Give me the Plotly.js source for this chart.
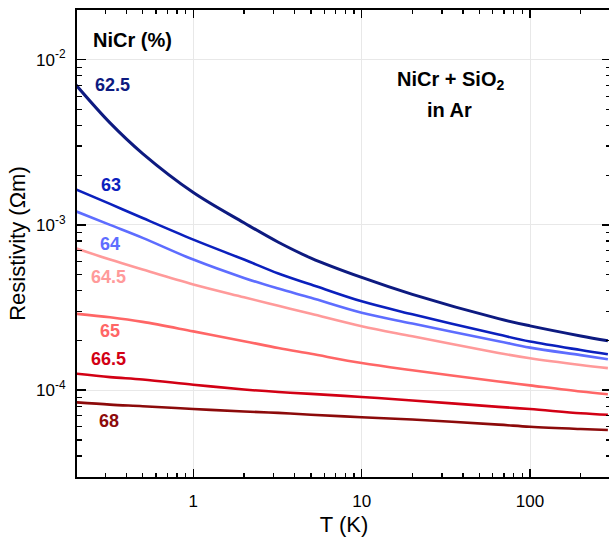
<!DOCTYPE html>
<html>
<head>
<meta charset="utf-8">
<script src="https://cdn.plot.ly/plotly-3.0.1.min.js"></script>
<style>
html,body{margin:0;padding:0;overflow:hidden;background:#fff;}
#chart{width:611px;height:537px;}
</style>
</head>
<body>
<div id="chart"></div>
<script>
// Temperature (K)
const T = [0.2, 0.32, 0.5, 1, 2, 3.2, 5, 10, 20, 65, 100, 200, 290];
// Resistivity (Ohm m) for each NiCr content (%)
const r625 = [7.06e-3, 4.14e-3, 2.70e-3, 1.57e-3, 1.03e-3, 7.85e-4, 6.30e-4, 4.81e-4, 3.80e-4, 2.71e-4, 2.45e-4, 2.13e-4, 1.99e-4];
const r63  = [1.64e-3, 1.34e-3, 1.10e-3, 8.15e-4, 6.17e-4, 5.08e-4, 4.36e-4, 3.45e-4, 2.88e-4, 2.17e-4, 1.97e-4, 1.75e-4, 1.65e-4];
const r64  = [1.21e-3, 1.00e-3, 8.35e-4, 6.17e-4, 4.78e-4, 4.12e-4, 3.62e-4, 2.94e-4, 2.53e-4, 1.98e-4, 1.81e-4, 1.63e-4, 1.54e-4];
const r645 = [7.24e-4, 6.17e-4, 5.37e-4, 4.36e-4, 3.65e-4, 3.24e-4, 2.90e-4, 2.44e-4, 2.12e-4, 1.68e-4, 1.56e-4, 1.42e-4, 1.36e-4];
const r65  = [2.90e-4, 2.76e-4, 2.59e-4, 2.27e-4, 1.98e-4, 1.80e-4, 1.66e-4, 1.46e-4, 1.32e-4, 1.13e-4, 1.07e-4, 9.82e-5, 9.46e-5];
const r665 = [1.26e-4, 1.20e-4, 1.16e-4, 1.08e-4, 1.01e-4, 9.75e-5, 9.50e-5, 9.10e-5, 8.67e-5, 7.93e-5, 7.69e-5, 7.26e-5, 7.10e-5];
const r68  = [8.45e-5, 8.18e-5, 8.00e-5, 7.70e-5, 7.43e-5, 7.29e-5, 7.11e-5, 6.86e-5, 6.65e-5, 6.19e-5, 6.01e-5, 5.82e-5, 5.74e-5];

const seriesNames = ['62.5', '63', '64', '64.5', '65', '66.5', '68'];
const seriesData = [r625, r63, r64, r645, r65, r665, r68];
const seriesColors = ['#0d1a80', '#0b20bd', '#5e6dff', '#ff9a9a', '#ff6666', '#d20014', '#8c0a0a'];
// label anchor points (T, rho)
const labelT   = [0.329, 0.323, 0.319, 0.314, 0.321, 0.312, 0.316];
const labelRho = [7.05e-3, 1.75e-3, 7.70e-4, 4.84e-4, 2.27e-4, 1.55e-4, 6.49e-5];

const xTickVals = [1, 10, 100];
const xTickText = ['1', '10', '100'];
const yTickVals = [1e-4, 1e-3, 1e-2];
const yTickText = ['10<sup>-4</sup>', '10<sup>-3</sup>', '10<sup>-2</sup>'];

const xMinor = [];
[0.1, 1, 10, 100].forEach(d => { for (let k = 2; k <= 9; k++) xMinor.push(k * d); });
const yMinor = [];
[1e-5, 1e-4, 1e-3, 1e-2].forEach(d => { for (let k = 2; k <= 9; k++) yMinor.push(k * d); });

const traces = seriesData.map((ys, i) => ({
  x: T, y: ys, type: 'scatter', mode: 'lines', name: seriesNames[i],
  line: {color: seriesColors[i], width: i === 0 ? 3 : 2.6, shape: 'spline', smoothing: 1},
  hoverinfo: 'skip', showlegend: false
}));

const font = 'Liberation Sans, Arial, sans-serif';
const annotations = seriesNames.map((n, i) => ({
  x: Math.log10(labelT[i]), y: Math.log10(labelRho[i]), xref: 'x', yref: 'y',
  text: '<b>' + n + '</b>', showarrow: false,
  font: {family: font, size: 18, color: seriesColors[i]}
}));
annotations.push({
  xref: 'paper', yref: 'paper', x: 0.026, y: 0.936, xanchor: 'left', yanchor: 'middle',
  text: '<b>NiCr (%)</b>', showarrow: false, font: {family: font, size: 20, color: '#000'}
});
annotations.push({
  xref: 'paper', yref: 'paper', x: 0.700, y: 0.848, xanchor: 'center', yanchor: 'middle',
  text: '<b>NiCr + SiO<sub>2</sub></b>', showarrow: false,
  font: {family: font, size: 20, color: '#000'}
});
annotations.push({
  xref: 'paper', yref: 'paper', x: 0.697, y: 0.786, xanchor: 'center', yanchor: 'middle',
  text: '<b>in Ar</b>', showarrow: false,
  font: {family: font, size: 20, color: '#000'}
});

const axisCommon = {
  type: 'log', showline: true, linecolor: '#000', linewidth: 2, mirror: 'allticks',
  ticks: 'inside', tickcolor: '#000', tickwidth: 1.5,
  showgrid: true, gridcolor: '#e8e8e8', gridwidth: 1, zeroline: false,
  tickmode: 'array', tickfont: {family: font, size: 17, color: '#000'}
};

const layout = {
  width: 611, height: 537,
  margin: {l: 77, r: 0, t: 10, b: 60},
  paper_bgcolor: '#fff', plot_bgcolor: '#fff',
  xaxis: Object.assign({}, axisCommon, {
    range: [-0.691, 2.481], tickvals: xTickVals, ticktext: xTickText, ticklen: 8,
    ticklabelstandoff: 8,
    minor: {tickmode: 'array', tickvals: xMinor, ticks: 'inside', ticklen: 4, tickcolor: '#000', tickwidth: 1.2, showgrid: false},
    title: {text: 'T (K)', font: {family: font, size: 22, color: '#000'}, standoff: 7}
  }),
  yaxis: Object.assign({}, axisCommon, {
    range: [-4.525, -1.700], tickvals: yTickVals, ticktext: yTickText, ticklen: 9,
    ticklabelstandoff: 6,
    minor: {tickmode: 'array', tickvals: yMinor, ticks: 'inside', ticklen: 5, tickcolor: '#000', tickwidth: 1.2, showgrid: false},
    title: {text: 'Resistivity (Ωm)', font: {family: font, size: 22, color: '#000'}, standoff: 4}
  }),
  annotations: annotations
};

Plotly.newPlot('chart', traces, layout, {staticPlot: true, displayModeBar: false});
</script>
</body>
</html>
